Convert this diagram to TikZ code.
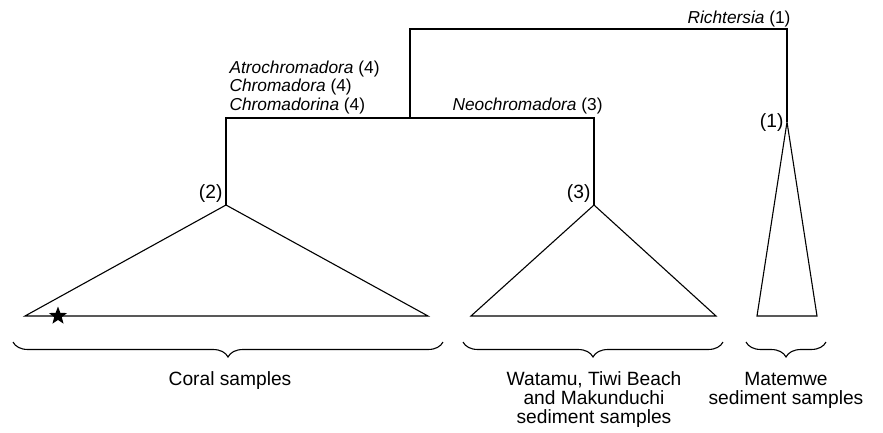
\documentclass[tikz,border=0pt]{standalone}
\usepackage{fontspec}
\setmainfont{Liberation Sans}
\usetikzlibrary{decorations.pathreplacing,shapes.geometric}
\begin{document}
\begin{tikzpicture}[x=1pt,y=-1pt,
  line width=1.1pt,
  lbl/.style={inner sep=0pt,font=\fontsize{17.3}{19}\selectfont},
  big/.style={inner sep=0pt,font=\fontsize{19.2}{19}\selectfont},
  brc/.style={decorate,decoration={brace,amplitude=15pt}}]
\useasboundingbox (0,0) rectangle (883,432);
% tree coordinates
\coordinate (rootL) at (410,29);
\coordinate (rootR) at (787,29);
\coordinate (midTop) at (410,118);
\coordinate (bL) at (226,118);
\coordinate (bR) at (594,118);
\coordinate (apexA) at (226,205);
\coordinate (apexB) at (594,205);
\coordinate (apexC) at (787,122);
\coordinate (aL) at (25,316);
\coordinate (aR) at (428,316);
\coordinate (bbL) at (471,316);
\coordinate (bbR) at (716,316);
\coordinate (cL) at (757,316);
\coordinate (cR) at (817,316);
% tree
\draw (midTop) -- (rootL) -- (rootR) -- (apexC);
\draw (apexA) -- (bL) -- (bR) -- (apexB);
% triangles
\draw (apexA) -- (aL) -- (aR) -- cycle;
\draw (apexB) -- (bbL) -- (bbR) -- cycle;
\draw (apexC) -- (cL) -- (cR) -- cycle;
% star
\node[star, star points=5, star point ratio=2.4, fill=black, inner sep=0pt, minimum size=19pt] (star) at (58,316) {};
% labels on tree
\node[lbl, anchor=base east] (rich) at (791,23) {\textit{Richtersia} (1)};
\node[lbl, anchor=base west] (neo) at (452,110) {\textit{Neochromadora} (3)};
\node[lbl, anchor=base west] (atro) at (229,73) {\textit{Atrochromadora} (4)};
\node[lbl, anchor=base west] (chro) at (229,91) {\textit{Chromadora} (4)};
\node[lbl, anchor=base west] (chrn) at (229,110) {\textit{Chromadorina} (4)};
\node[big, anchor=base east] (n2) at (223,198) {(2)};
\node[big, anchor=base east] (n3) at (591,198) {(3)};
\node[big, anchor=base east] (n1) at (784,127) {(1)};
% braces
\coordinate (brA1) at (13,342);
\coordinate (brA2) at (443,342);
\coordinate (brB1) at (463,342);
\coordinate (brB2) at (723,342);
\coordinate (brC1) at (746,342);
\coordinate (brC2) at (826,342);
\draw[brc] (brA2) -- (brA1);
\draw[brc] (brB2) -- (brB1);
\draw[brc] (brC2) -- (brC1);
% bottom labels
\node[big, anchor=base] (coral) at (230,385) {Coral samples};
\node[big, anchor=base] (wat1) at (594,385) {Watamu, Tiwi Beach};
\node[big, anchor=base] (wat2) at (594,404) {and Makunduchi};
\node[big, anchor=base] (wat3) at (594,423) {sediment samples};
\node[big, anchor=base] (mat1) at (786,385) {Matemwe};
\node[big, anchor=base] (mat2) at (786,404) {sediment samples};
\end{tikzpicture}
\end{document}
